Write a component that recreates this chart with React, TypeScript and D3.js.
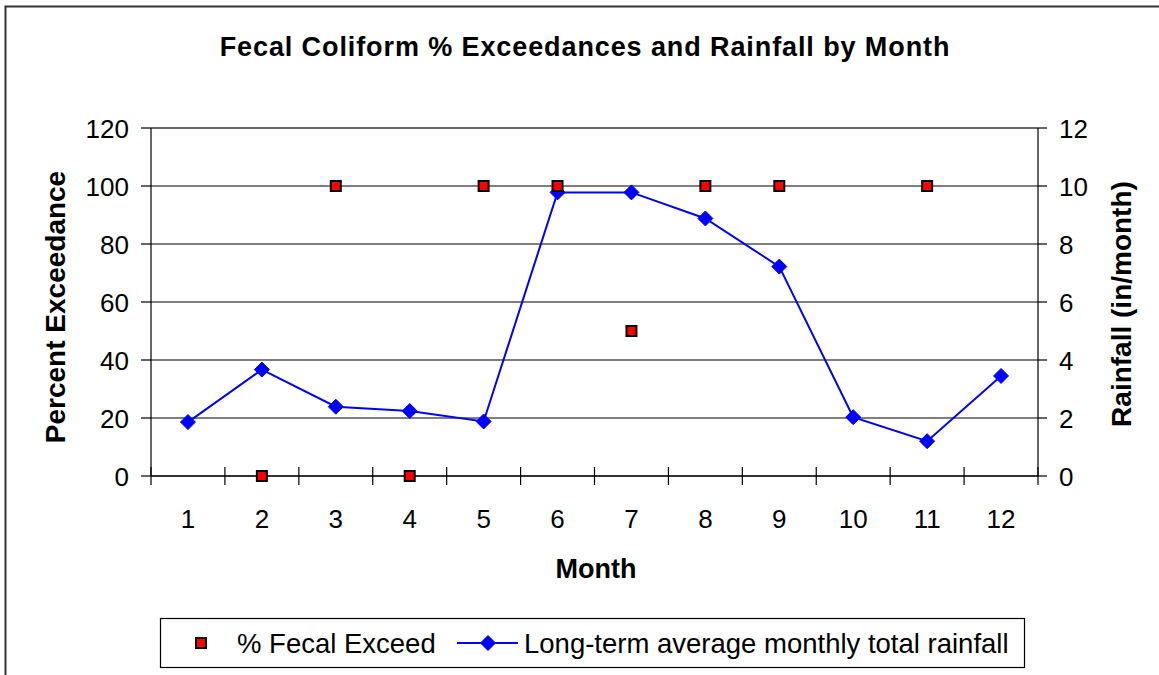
import React from "react";
import * as d3 from "d3";

const months = ["1", "2", "3", "4", "5", "6", "7", "8", "9", "10", "11", "12"];
const fecalMonths = ["2", "3", "4", "5", "6", "7", "8", "9", "11"];
const fecalExceed = [0, 100, 0, 100, 100, 50, 100, 100, 100];
const rainfall = [1.86, 3.67, 2.39, 2.24, 1.88, 9.78, 9.78, 8.88, 7.22, 2.03, 1.2, 3.45];
const leftTicks = [0, 20, 40, 60, 80, 100, 120];
const rightTicks = [0, 2, 4, 6, 8, 10, 12];

const W = 1159;
const H = 675;
const margin = { left: 151, right: 1038, top: 128, bottom: 476 };
const FONT = "'Liberation Sans', Arial, sans-serif";

export default function App() {
  const x = d3.scaleBand<string>().domain(months).range([margin.left, margin.right]);
  const yL = d3.scaleLinear().domain([0, 120]).range([margin.bottom, margin.top]);
  const yR = d3.scaleLinear().domain([0, 12]).range([margin.bottom, margin.top]);
  const cx = (m: string) => (x(m) as number) + x.bandwidth() / 2;

  const line = d3
    .line<number>()
    .x((_, i) => cx(months[i]))
    .y((d) => yR(d));

  const diamond = (px: number, py: number, r: number) =>
    `M${px},${py - r}L${px + r},${py}L${px},${py + r}L${px - r},${py}Z`;

  const boundaries = d3.range(months.length + 1).map((i) => margin.left + i * x.step());

  return (
    <svg
      width={W}
      height={H}
      style={{ position: "absolute", left: 0, top: 0, background: "#fff" }}
      fontFamily={FONT}
    >
      <rect x={0} y={0} width={W} height={H} fill="#fff" />
      <rect x={5.5} y={6.5} width={W + 20} height={H + 20} fill="none" stroke="#333" strokeWidth={2} />

      <text x={585} y={56} textAnchor="middle" fontSize={27} fontWeight="bold" letterSpacing={0.9}>
        Fecal Coliform % Exceedances and Rainfall by Month
      </text>

      {/* gridlines */}
      {leftTicks.map((t) => (
        <line
          key={"g" + t}
          x1={margin.left}
          x2={margin.right}
          y1={yL(t)}
          y2={yL(t)}
          stroke={t === 120 ? "#333" : "#000"}
          strokeWidth={t === 120 ? 1.5 : 1.2}
        />
      ))}
      {/* left axis */}
      <line x1={margin.left} x2={margin.left} y1={margin.top} y2={margin.bottom} stroke="#000" strokeWidth={1.2} />
      {leftTicks.map((t) => (
        <g key={"l" + t}>
          <line x1={margin.left - 10} x2={margin.left} y1={yL(t)} y2={yL(t)} stroke="#000" strokeWidth={1.2} />
          <text x={129} y={yL(t) + 10} textAnchor="end" fontSize={26}>
            {t}
          </text>
        </g>
      ))}
      {/* right axis */}
      <line x1={margin.right} x2={margin.right} y1={margin.top} y2={margin.bottom} stroke="#000" strokeWidth={1.2} />
      {rightTicks.map((t) => (
        <g key={"r" + t}>
          <line x1={margin.right} x2={margin.right + 9} y1={yR(t)} y2={yR(t)} stroke="#000" strokeWidth={1.2} />
          <text x={1059} y={yR(t) + 10} textAnchor="start" fontSize={26}>
            {t}
          </text>
        </g>
      ))}
      {/* x axis */}
      <line x1={margin.left} x2={margin.right} y1={margin.bottom} y2={margin.bottom} stroke="#333" strokeWidth={2} />
      {boundaries.map((b, i) => (
        <line key={"xt" + i} x1={b} x2={b} y1={margin.bottom - 9} y2={margin.bottom + 9} stroke="#000" strokeWidth={1.2} />
      ))}
      {months.map((m) => (
        <text key={"xl" + m} x={cx(m)} y={528} textAnchor="middle" fontSize={26}>
          {m}
        </text>
      ))}

      <text x={596} y={578} textAnchor="middle" fontSize={27} fontWeight="bold">
        Month
      </text>
      <text transform={`translate(65,307) rotate(-90)`} textAnchor="middle" fontSize={28} fontWeight="bold">
        Percent Exceedance
      </text>
      <text transform={`translate(1131,304) rotate(-90)`} textAnchor="middle" fontSize={28} fontWeight="bold">
        Rainfall (in/month)
      </text>

      {/* rainfall line */}
      <path d={line(rainfall) || ""} fill="none" stroke="#0000ff" strokeWidth={2} />
      {rainfall.map((v, i) => (
        <path key={"d" + i} d={diamond(cx(months[i]), yR(v), 7.5)} fill="#0000ff" stroke="#0000ff" strokeWidth={1} />
      ))}

      {/* fecal squares */}
      {fecalExceed.map((v, i) => (
        <rect
          key={"s" + i}
          x={cx(fecalMonths[i]) - 5}
          y={yL(v) - 5}
          width={10}
          height={10}
          fill="#ff0000"
          stroke="#000"
          strokeWidth={2}
        />
      ))}

      {/* legend */}
      <rect x={160.5} y={618.5} width={864} height={49} fill="#fff" stroke="#000" strokeWidth={1.2} />
      <rect x={196} y={638} width={10} height={10} fill="#ff0000" stroke="#000" strokeWidth={2} />
      <text x={237} y={653} fontSize={27.5}>
        % Fecal Exceed
      </text>
      <line x1={457} x2={518} y1={643} y2={643} stroke="#0000ff" strokeWidth={2} />
      <path d={diamond(488, 643, 7.5)} fill="#0000ff" stroke="#0000ff" />
      <text x={524} y={653} fontSize={27.5}>
        Long-term average monthly total rainfall
      </text>
    </svg>
  );
}
